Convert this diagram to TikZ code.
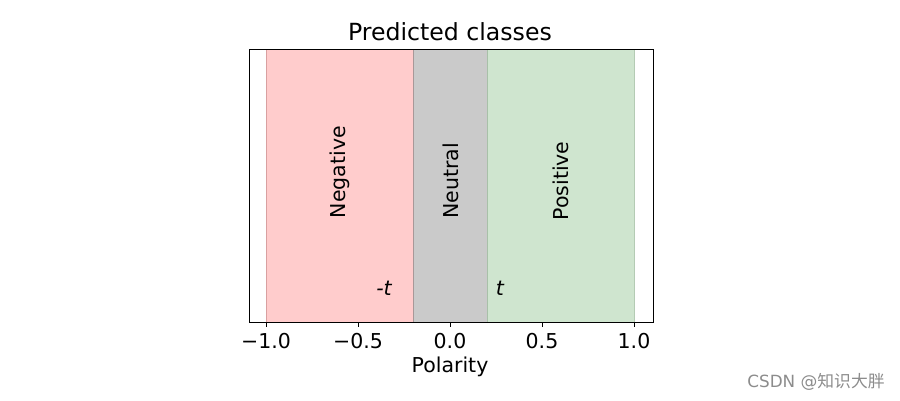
\documentclass[tikz,border=0pt]{standalone}
\usepackage{fontspec}
\setmainfont{DejaVu Sans}
\newfontfamily\cjkfont{Noto Sans CJK SC}
\definecolor{negfill}{HTML}{FFCCCC}
\definecolor{neufill}{HTML}{CACACA}
\definecolor{posfill}{HTML}{CFE5CF}
\definecolor{negedge}{HTML}{D9A0A0}
\definecolor{neuedge}{HTML}{A89898}
\definecolor{posedge}{HTML}{A8C0A8}
\begin{document}
\begin{tikzpicture}[x=1pt,y=-1pt,
  lbl/.style={font=\fontsize{20.5}{24}\selectfont, inner sep=0pt},
  rot/.style={lbl, rotate=90},
  tick/.style={line width=0.8pt}]
\useasboundingbox (0,0) rectangle (900,400);
% spans
\fill[negfill] (266,49) rectangle (413,322);
\fill[neufill] (413,49) rectangle (487,322);
\fill[posfill] (487,49) rectangle (634,322);
\draw[negedge, line width=0.6pt] (266,49) -- (266,322);
\draw[neuedge, line width=0.8pt] (413,49) -- (413,322);
\draw[posedge, line width=0.8pt] (487,49) -- (487,322);
\draw[posedge!70!posfill, line width=0.6pt] (634,49) -- (634,322);
% axes frame
\draw[line width=0.9pt] (249,49) rectangle (653,322);
% ticks
\foreach \x in {266,358,450,542,634} \draw[tick] (\x,322) -- (\x,327);
\node[lbl] (t1) at (266,341) {−1.0};
\node[lbl] (t2) at (358,341) {−0.5};
\node[lbl] (t3) at (450,341) {0.0};
\node[lbl] (t4) at (542,341) {0.5};
\node[lbl] (t5) at (634,341) {1.0};
\node[lbl] (xl) at (450,367) {Polarity};
\node[font=\fontsize{23.6}{28}\selectfont, inner sep=0pt] (title) at (450,32) {Predicted classes};
% class labels
\node[rot] (neg) at (340,172) {Negative};
\node[rot] (neu) at (451,181) {Neutral};
\node[rot] (pos) at (561,181) {Positive};
\node[lbl] (mt) at (384,288) {\itshape -t};
\node[lbl] (pt) at (500,288) {\itshape t};
% watermark
\node[font=\fontsize{16.8}{19}\selectfont, text=black!45, inner sep=0pt] (wm) at (816,382) {CSDN @{\cjkfont 知识大胖}};
\end{tikzpicture}
\end{document}
